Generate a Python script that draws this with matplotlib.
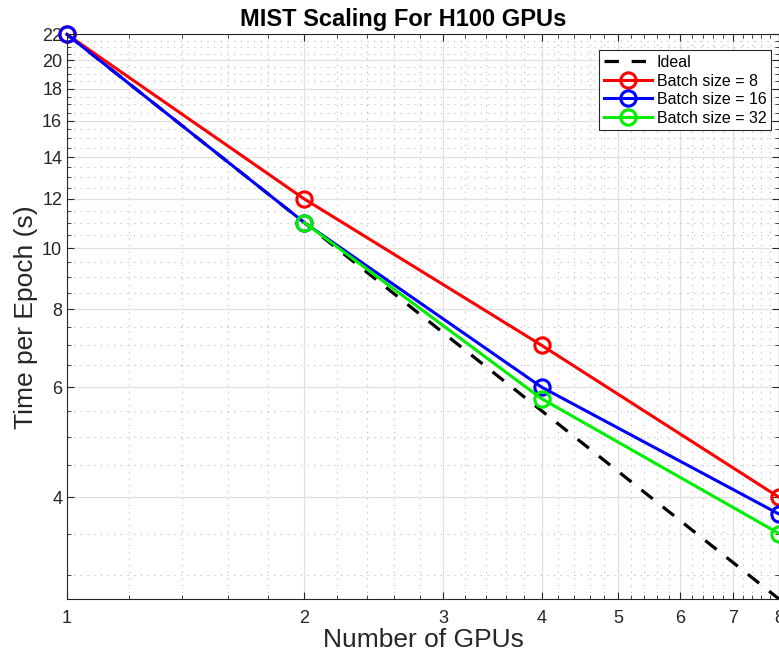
import matplotlib.pyplot as plt
import matplotlib.ticker as mticker
import numpy as np

plt.rcParams['font.family'] = ['Liberation Sans', 'DejaVu Sans']

# data
gpus = [1, 2, 4, 8]
ideal = [22, 11, 5.5, 2.75]
bs8 = [22, 12, 7.0, 4.0]
bs16 = [22, 11, 6.0, 3.76]
gpus32 = [2, 4, 8]
bs32 = [11, 5.75, 3.5]

x_major = [1, 2, 3, 4, 5, 6, 7, 8]
y_major = [4, 6, 8, 10, 12, 14, 16, 18, 20, 22]

fig = plt.figure(figsize=(7.79, 6.58), dpi=100)
ax = fig.add_axes([0.086, 0.0897, 0.914, 0.858])

mk = dict(linewidth=2.2, marker='o', markersize=11, markerfacecolor='none',
          markeredgewidth=2.2, clip_on=False)
ax.plot(gpus, ideal, color='black', linestyle=(0, (4.5, 4)), linewidth=2.3, label='Ideal')
ax.plot(gpus, bs8, color='red', label='Batch size = 8', **mk)
ax.plot(gpus, bs16, color='blue', label='Batch size = 16', **mk)
ax.plot(gpus32, bs32, color='#00ee00', label='Batch size = 32', **mk)

ax.set_xscale('log')
ax.set_yscale('log')
ax.set_xlim(1, 8)
ax.set_ylim(2.75, 22)

ax.xaxis.set_major_locator(mticker.FixedLocator(x_major))
ax.xaxis.set_major_formatter(mticker.FixedFormatter([str(v) for v in x_major]))
ax.xaxis.set_minor_locator(mticker.FixedLocator(np.arange(1, 8.01, 0.2)))
ax.xaxis.set_minor_formatter(mticker.NullFormatter())
ax.yaxis.set_major_locator(mticker.FixedLocator(y_major))
ax.yaxis.set_major_formatter(mticker.FixedFormatter([str(v) for v in y_major]))
ax.yaxis.set_minor_locator(mticker.FixedLocator(np.arange(3, 22.01, 0.5)))
ax.yaxis.set_minor_formatter(mticker.NullFormatter())

ax.grid(True, which='major', color='#e0e0e0', linewidth=0.9, linestyle='-')
ax.grid(True, which='minor', color='#b8b8b8', linewidth=0.8, linestyle=(0, (1, 5)))
ax.set_axisbelow(True)

ax.tick_params(which='both', direction='in', top=True, right=True, colors='#262626',
               labelsize=13)
ax.tick_params(which='major', length=5, width=0.8)
ax.tick_params(which='minor', length=3, width=0.6)
ax.tick_params(axis='x', pad=8)
for s in ax.spines.values():
    s.set_color('#262626')
    s.set_linewidth(0.8)

ax.set_xlabel('Number of GPUs', fontsize=19, color='#262626', labelpad=1)
ax.set_ylabel('Time per Epoch (s)', fontsize=19, color='#262626', labelpad=3)
ax.set_title('MIST Scaling For H100 GPUs', fontsize=17, fontweight='bold', x=0.472, pad=6)

leg = ax.legend(loc='upper right', bbox_to_anchor=(0.989, 0.972), borderaxespad=0,
                fontsize=11.5, fancybox=False, edgecolor='#262626', framealpha=1,
                handlelength=3.0, borderpad=0.3, labelspacing=0.22, handletextpad=0.3)
leg.get_frame().set_linewidth(0.8)

plt.savefig('out.png', dpi=100)
